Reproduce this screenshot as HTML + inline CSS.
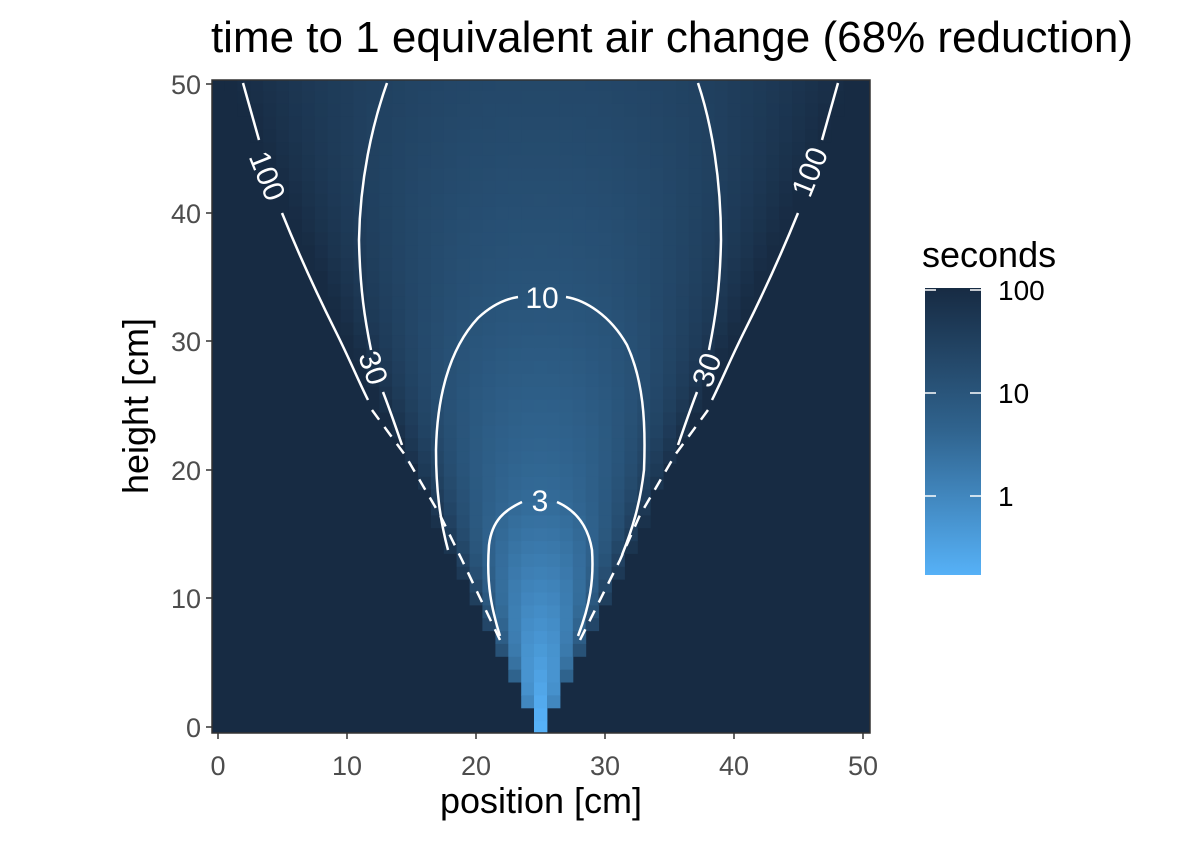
<!DOCTYPE html>
<html><head><style>
body{margin:0;background:#fff;}
svg text{font-family:"Liberation Sans",Arial,sans-serif;}
</style></head><body>
<svg id="s" width="1200" height="840" xmlns="http://www.w3.org/2000/svg">
<defs>
<clipPath id="cp"><rect x="212" y="80" width="658" height="653"/></clipPath>
<linearGradient id="lg" x1="0" y1="0" x2="0" y2="1">
<stop offset="0" stop-color="#172b43"/>
<stop offset="0.5" stop-color="#30648f"/>
<stop offset="1" stop-color="#56b1f7"/>
</linearGradient>
</defs>
<rect x="212" y="80" width="658" height="653" fill="#172b43"/>
<g id="tiles" clip-path="url(#cp)"></g>
<g fill="none" stroke="#fff" stroke-width="2.5" clip-path="url(#cp)">
<path d="M500,636 C492,610 486,585 489,545 C492,520 505,510 522,502"/>
<path d="M557,502 C575,510 588,525 592,550 C594,580 590,605 578,636"/>
<path d="M448,550 C440,520 436,490 436,450 C437,400 448,350 478,318 C492,305 505,299 518,297"/>
<path d="M566,297 C585,300 610,315 627,345 C643,380 646,420 644,470 C640,505 632,530 622,555"/>
<path d="M387,83 C372,125 360,180 359,240 C360,290 365,320 371,350"/>
<path d="M383,392 C390,410 395,425 402,445"/>
<path d="M698,83 C712,125 721,180 721,240 C720,290 715,320 709,350"/>
<path d="M697,392 C690,410 685,425 678,445"/>
<path d="M243,83 L259,140"/>
<path d="M282,213 C295,245 315,290 335,330 C350,360 358,380 368,400"/>
<path d="M838,83 L822,140"/>
<path d="M798,213 C785,245 765,290 745,330 C730,360 722,380 712,400"/>
<g stroke-dasharray="12,9">
<path d="M372,410 L405,455 L440,515 L462,560 L500,640"/>
<path d="M708,410 L675,455 L640,515 L620,560 L580,640"/>
</g>
</g>
<g fill="#fff" font-size="30" text-anchor="middle">
<text x="540" y="511">3</text>
<text x="542" y="308">10</text>
<text transform="translate(373,368) rotate(70)" y="10">30</text>
<text transform="translate(707,370) rotate(-70)" y="10">30</text>
<text transform="translate(267,176) rotate(68)" y="10">100</text>
<text transform="translate(810,172) rotate(-68)" y="10">100</text>
</g>
<rect x="212" y="80" width="658" height="653" fill="none" stroke="#333" stroke-width="1.5"/>
<g stroke="#333" stroke-width="1.5">
<line x1="206" y1="727" x2="212" y2="727"/><line x1="206" y1="598" x2="212" y2="598"/><line x1="206" y1="470" x2="212" y2="470"/><line x1="206" y1="341" x2="212" y2="341"/><line x1="206" y1="213" x2="212" y2="213"/><line x1="206" y1="84" x2="212" y2="84"/>
<line x1="218" y1="733" x2="218" y2="739"/><line x1="347" y1="733" x2="347" y2="739"/><line x1="476" y1="733" x2="476" y2="739"/><line x1="605" y1="733" x2="605" y2="739"/><line x1="734" y1="733" x2="734" y2="739"/><line x1="863" y1="733" x2="863" y2="739"/>
</g>
<g fill="#4d4d4d" font-size="27" text-anchor="end">
<text x="201" y="737">0</text><text x="201" y="608">10</text><text x="201" y="480">20</text><text x="201" y="351">30</text><text x="201" y="223">40</text><text x="201" y="94">50</text>
</g>
<g fill="#4d4d4d" font-size="27" text-anchor="middle">
<text x="218" y="775">0</text><text x="347" y="775">10</text><text x="476" y="775">20</text><text x="605" y="775">30</text><text x="734" y="775">40</text><text x="863" y="775">50</text>
</g>
<text x="541" y="813" font-size="36" text-anchor="middle" fill="#000">position [cm]</text>
<text transform="translate(148,406) rotate(-90)" font-size="36" text-anchor="middle" fill="#000">height [cm]</text>
<text x="672" y="52" font-size="44" text-anchor="middle" fill="#000">time to 1 equivalent air change (68% reduction)</text>
<text x="922" y="267" font-size="36" fill="#000">seconds</text>
<rect x="925" y="288" width="56" height="287" fill="url(#lg)"/>
<g stroke="#fff" stroke-width="1.5">
<line x1="925" y1="290" x2="936" y2="290"/><line x1="970" y1="290" x2="981" y2="290"/>
<line x1="925" y1="393" x2="936" y2="393"/><line x1="970" y1="393" x2="981" y2="393"/>
<line x1="925" y1="496" x2="936" y2="496"/><line x1="970" y1="496" x2="981" y2="496"/>
</g>
<g font-size="28" fill="#000">
<text x="998" y="300">100</text><text x="998" y="403">10</text><text x="998" y="506">1</text>
</g>
</svg>
<script>
(function(){
var g=document.getElementById('tiles'),ns="http://www.w3.org/2000/svg";
function lerp(a,b,t){return a+(b-a)*t;}
var c0=[0x17,0x2b,0x43],c1=[0x30,0x64,0x8f],c2=[0x56,0xb1,0xf7];
function col(l){var t=(2-l)/2.77;if(t<0)t=0;if(t>1)t=1;var a,b,u;
if(t<0.5){a=c0;b=c1;u=t/0.5;}else{a=c1;b=c2;u=(t-0.5)/0.5;}
return 'rgb('+Math.round(lerp(a[0],b[0],u))+','+Math.round(lerp(a[1],b[1],u))+','+Math.round(lerp(a[2],b[2],u))+')';}
function la(y){var p=[[0,-0.8],[10,-0.05],[17.5,0.48],[33.5,1.0],[50,1.3]];
for(var i=0;i<p.length-1;i++){if(y<=p[i+1][0]){var t=(y-p[i][0])/(p[i+1][0]-p[i][0]);return lerp(p[i][1],p[i+1][1],t);}}return 1.3;}
for(var y=0;y<=50;y++){var h=0.5+0.47*y;
for(var x=0;x<=50;x++){var d=Math.abs(x-25);if(d>h)continue;
var r=d/(h+0.5);var a=la(y);var l=a+(2.05-a)*Math.pow(r,2.2);
var e=document.createElementNS(ns,'rect');
var px=218+(x-0.5)*12.9, py=727-(y+0.5)*12.86;
e.setAttribute('x',px.toFixed(1));e.setAttribute('y',py.toFixed(1));
e.setAttribute('width','13.4');e.setAttribute('height','13.4');
e.setAttribute('fill',col(l));g.appendChild(e);}}
})();
</script>
</body></html>
